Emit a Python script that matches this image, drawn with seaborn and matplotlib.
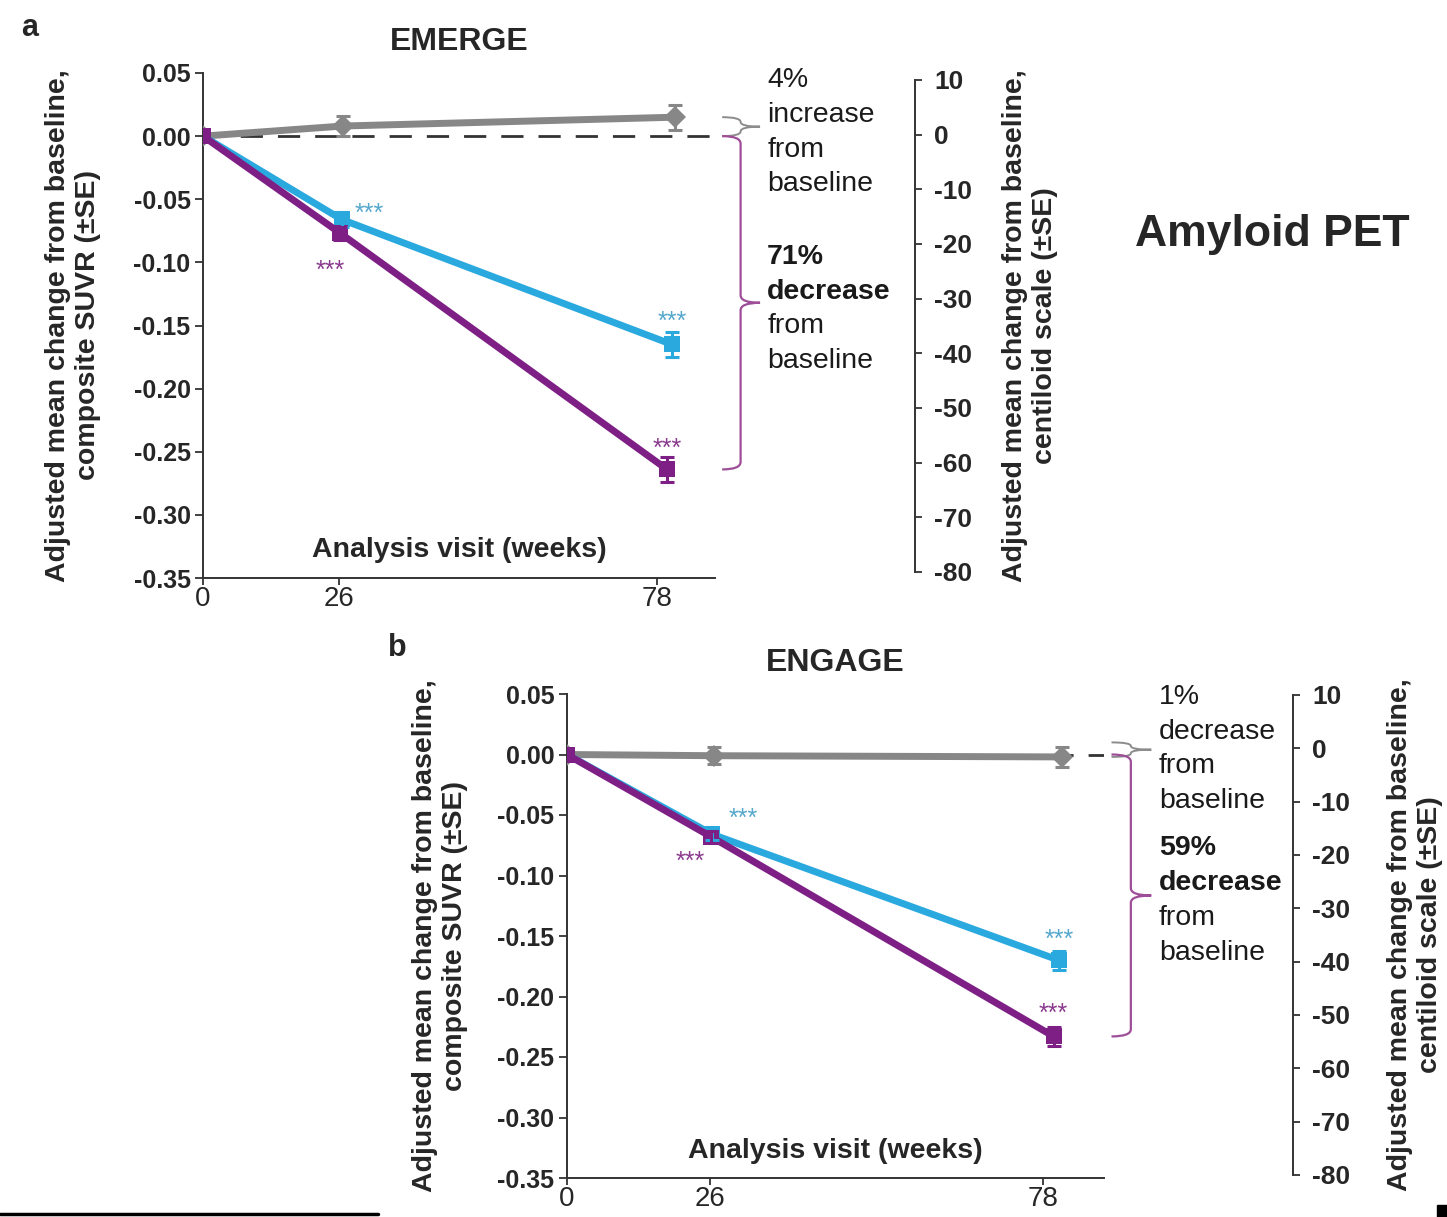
import numpy as np
import pandas as pd
import matplotlib
matplotlib.use("Agg")
import matplotlib.pyplot as plt
import matplotlib.transforms as mtransforms
from matplotlib.path import Path
from matplotlib.patches import PathPatch, Rectangle
from matplotlib.lines import Line2D
import seaborn as sns

# ------------------------------------------------------------------ data
groups = ["Placebo", "Low dose", "High dose"]

# plotted visit positions (weeks); points are nudged apart slightly
weeks_placebo = [0, 26.6, 81.0]
weeks_low = [0, 26.4, 80.5]
weeks_high = [0, 26.2, 79.7]

# EMERGE: adjusted mean change in composite SUVR and its SE
emerge_placebo = [0.0, 0.008, 0.015]
emerge_low = [0.0, -0.066, -0.165]
emerge_high = [0.0, -0.077, -0.264]
emerge_placebo_se = [0.0, 0.008, 0.010]
emerge_low_se = [0.0, 0.006, 0.010]
emerge_high_se = [0.0, 0.005, 0.010]

# ENGAGE
engage_placebo = [0.0, -0.001, -0.002]
engage_low = [0.0, -0.066, -0.170]
engage_high = [0.0, -0.068, -0.233]
engage_placebo_se = [0.0, 0.007, 0.008]
engage_low_se = [0.0, 0.005, 0.008]
engage_high_se = [0.0, 0.005, 0.008]

visit_ticks = [0, 26, 78]
suvr_ticks = [0.05, 0.00, -0.05, -0.10, -0.15, -0.20, -0.25, -0.30, -0.35]
centiloid_ticks = [10, 0, -10, -20, -30, -40, -50, -60, -70, -80]

emerge_notes = [["4%", "increase", "from", "baseline"],
                ["71%", "decrease", "from", "baseline"]]
engage_notes = [["1%", "decrease", "from", "baseline"],
                ["59%", "decrease", "from", "baseline"]]
note_bold = [[False, False, False, False], [True, True, False, False]]

# ----------------------------------------------------------------- style
sns.set_theme(style="white")
plt.rcParams["font.family"] = ["Liberation Sans", "DejaVu Sans"]
plt.rcParams["axes.unicode_minus"] = False

colors = {"Placebo": "#878787", "Low dose": "#2AA9DF", "High dose": "#7E1F86"}
star_colors = {"Low dose": "#55A7CC", "High dose": "#8A3A8E"}
markers = {"Placebo": "D", "Low dose": "s", "High dose": "s"}
brace_colors = {"Placebo": "#8C8C8C", "High dose": "#9E4E98"}

W, H = 1447, 1217
fig = plt.figure(figsize=(W / 100, H / 100), dpi=100)


def fbox(x0, y0, x1, y1):
    return [x0 / W, 1 - y1 / H, (x1 - x0) / W, (y1 - y0) / H]


# non-uniform visit axis: 26 and 78 weeks sit at fixed fractions of the axis
U26, U78 = 0.266, 0.886
S2 = (U78 - U26) / 52
XMAX = 78 + (1 - U78) / S2
KW = np.array([-100.0, 0.0, 26.0, 78.0, 300.0])
KU = np.array([-100 * U26 / 26, 0.0, U26, U78, U78 + (300 - 78) * S2])


def fwd(w):
    return np.interp(w, KW, KU)


def inv(u):
    return np.interp(u, KU, KW)


def brace(ax, y_a, y_b, color, min_span, lw=1.6,
          x_hook=1.014, x_bar=1.05, x_tip=1.088):
    lo, hi = sorted([y_a, y_b])
    hi = max(hi, lo + min_span)
    mid = (lo + hi) / 2
    r = min(0.006, (hi - lo) / 4)
    verts = [(x_hook, hi), (x_bar, hi), (x_bar, hi - r),
             (x_bar, mid + r), (x_bar, mid), (x_tip, mid),
             (x_bar, mid), (x_bar, mid - r),
             (x_bar, lo + r), (x_bar, lo), (x_hook, lo)]
    codes = [Path.MOVETO, Path.CURVE3, Path.CURVE3,
             Path.LINETO, Path.CURVE3, Path.CURVE3,
             Path.CURVE3, Path.CURVE3,
             Path.LINETO, Path.CURVE3, Path.CURVE3]
    trans = mtransforms.blended_transform_factory(ax.transAxes, ax.transData)
    ax.add_patch(PathPatch(Path(verts, codes), fill=False, edgecolor=color,
                           lw=lw, transform=trans, clip_on=False))


panels = [
    dict(title="EMERGE", letter="a", letter_xy=(30, 28),
         main=(203, 73, 715, 578), rspine=915, rtop=80, rbot=572,
         ylab_x=-0.254, rlab_x=1030,
         data=[(weeks_placebo, emerge_placebo, emerge_placebo_se),
               (weeks_low, emerge_low, emerge_low_se),
               (weeks_high, emerge_high, emerge_high_se)],
         notes=emerge_notes, note_y=[0.986, 0.636],
         stars=[("Low dose", 1, (20, 8)), ("High dose", 1, (-7, -23)),
                ("Low dose", 2, (0, 20)), ("High dose", 2, (0, 19))]),
    dict(title="ENGAGE", letter="b", letter_xy=(397, 648),
         main=(567, 694, 1104, 1178), rspine=1293, rtop=695, rbot=1175,
         ylab_x=-0.236, rlab_x=1415,
         data=[(weeks_placebo, engage_placebo, engage_placebo_se),
               (weeks_low, engage_low, engage_low_se),
               (weeks_high, engage_high, engage_high_se)],
         notes=engage_notes, note_y=[0.994, 0.681],
         stars=[("Low dose", 1, (22, 15)), ("High dose", 1, (-15, -14)),
                ("Low dose", 2, (0, 19)), ("High dose", 2, (0, 20))]),
]

for p in panels:
    x0, y0, x1, y1 = p["main"]
    ax = fig.add_axes(fbox(x0, y0, x1, y1))
    ax.set_xscale("function", functions=(fwd, inv))

    frames = []
    for g, (wk, val, se) in zip(groups, p["data"]):
        frames.append(pd.DataFrame({"week": wk, "change": val, "se": se, "group": g}))
    df = pd.concat(frames, ignore_index=True)

    ax.axhline(0, color="#333333", lw=2.0, dashes=(8, 5.4), zorder=1)

    sns.lineplot(data=df, x="week", y="change", hue="group", hue_order=groups,
                 palette=colors, style="group", style_order=groups,
                 markers=markers, dashes=False, errorbar=None, legend=False,
                 sort=False, linewidth=5, markersize=11, markeredgewidth=0,
                 ax=ax, zorder=3)
    for g in groups:
        sub = df[(df["group"] == g) & (df["se"] > 0)]
        ax.errorbar(sub["week"], sub["change"], yerr=sub["se"], fmt="none",
                    ecolor=colors[g], elinewidth=2.2, capsize=5, capthick=2.2,
                    zorder=4)

    ax.set_xlim(0, XMAX)
    ax.set_ylim(-0.35, 0.05)
    ax.set_xticks(visit_ticks)
    ax.set_xticklabels([str(v) for v in visit_ticks], fontsize=20)
    ax.set_yticks(suvr_ticks)
    ax.set_yticklabels([f"{v:.2f}".replace("-0.00", "0.00") for v in suvr_ticks],
                       fontsize=18, fontweight="bold")
    ax.tick_params(axis="both", which="both", direction="out", length=6,
                   width=1.3, color="#333333", bottom=True, left=True, pad=3)
    ax.tick_params(axis="x", length=5, pad=1)
    ax.minorticks_off()
    sns.despine(ax=ax)
    for s in ("left", "bottom"):
        ax.spines[s].set_color("#333333")
        ax.spines[s].set_linewidth(1.4)
    ax.set_facecolor("none")

    ax.set_xlabel("Analysis visit (weeks)", fontsize=20.5, fontweight="bold")
    ax.xaxis.set_label_coords(0.5, 0.055)
    ax.xaxis.label.set_va("center")
    ax.set_ylabel("Adjusted mean change from baseline,\ncomposite SUVR (\u00b1SE)",
                  fontsize=20.5, fontweight="bold", linespacing=1.2)
    ax.yaxis.set_label_coords(p["ylab_x"], 0.5)
    ax.yaxis.label.set_va("center")

    ax.annotate(p["title"], xy=(0.5, 1), xycoords="axes fraction",
                xytext=(0, 22), textcoords="offset points", ha="center",
                va="center", fontsize=23, fontweight="bold")
    fig.text(p["letter_xy"][0] / W, 1 - p["letter_xy"][1] / H, p["letter"],
             fontsize=22, fontweight="bold", ha="center", va="center")

    # significance markers
    series = {g: d for g, d in zip(groups, p["data"])}
    for g, i, off in p["stars"]:
        wk, val, _ = series[g]
        ax.annotate("***", xy=(wk[i], val[i]), xytext=(off[0], off[1] - 4),
                    textcoords="offset points", ha="center", va="center",
                    fontsize=18, color=star_colors[g], zorder=5)

    # braces spanning the week-78 change for placebo and high dose
    pl = series["Placebo"][1][-1]
    hd = series["High dose"][1][-1]
    brace(ax, pl, 0.0, brace_colors["Placebo"], min_span=0.012, lw=1.4)
    brace(ax, 0.0, hd, brace_colors["High dose"], min_span=0.012, lw=1.6)

    # percentage-change notes
    for b, (block, yb) in enumerate(zip(p["notes"], p["note_y"])):
        for j, (line, bold) in enumerate(zip(block, note_bold[b])):
            ax.annotate(line, xy=(1.102, yb), xycoords="axes fraction",
                        xytext=(0, -25 * j), textcoords="offset points",
                        ha="left", va="center", fontsize=20.5,
                        fontweight="bold" if bold else "normal", color="#1a1a1a",
                        annotation_clip=False)

    # centiloid axis
    axr = fig.add_axes(fbox(p["rspine"] - 8, p["rtop"], p["rspine"], p["rbot"]))
    axr.set_ylim(-80, 10)
    axr.set_xticks([])
    axr.yaxis.tick_right()
    axr.set_yticks(centiloid_ticks)
    axr.set_yticklabels([str(v) for v in centiloid_ticks], fontsize=19,
                        fontweight="bold")
    axr.tick_params(axis="y", direction="out", length=5, width=1.3,
                    color="#333333", right=True, left=False, pad=9)
    for s in ("left", "top", "bottom"):
        axr.spines[s].set_visible(False)
    axr.spines["right"].set_color("#333333")
    axr.spines["right"].set_linewidth(1.4)
    axr.set_facecolor("none")
    fig.text(p["rlab_x"] / W, 1 - ((p["rtop"] + p["rbot"]) / 2) / H,
             "Adjusted mean change from baseline,\ncentiloid scale (\u00b1SE)",
             rotation=90, ha="center", va="center", fontsize=20.5,
             fontweight="bold", linespacing=1.2, multialignment="center")

fig.text(1272 / W, 1 - 235 / H, "Amyloid PET", fontsize=32, fontweight="bold",
         ha="center", va="center")

# page rules along the bottom edge
fig.add_artist(Line2D([0, 378 / W], [1 - 1214 / H] * 2, color="black", lw=2.5))
fig.add_artist(Rectangle((1437 / W, 0), 10 / W, 12 / H, color="black"))

fig.savefig("out.png", dpi=100)
